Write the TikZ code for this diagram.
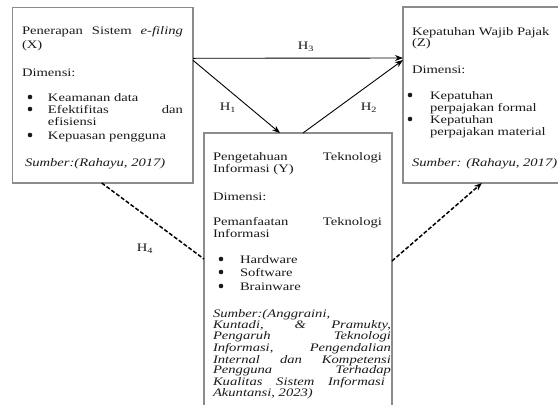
\documentclass[tikz,border=0pt]{standalone}
\usepackage{fontspec}
\setmainfont{Liberation Serif}
\usepackage{graphicx}
\usetikzlibrary{arrows.meta}
\newcommand\sxx[1]{\scalebox{1.27}[1]{#1}}
\newcommand\jln[2]{\scalebox{1.27}[1]{\makebox[0.787\dimexpr #1pt\relax][s]{#2}}}
\begin{document}
\begin{tikzpicture}[x=1pt,y=-1pt,
 txt/.style={anchor=base west,inner sep=0pt,outer sep=0pt,font=\fontsize{11.5}{12}\selectfont,text=black!90},
 bulx/.style={circle,fill=black!90,inner sep=0pt,minimum size=4.6pt},
 boxx/.style={draw=black!45,line width=1.1pt,inner sep=0pt,outer sep=0pt},
 arr/.style={line width=0.9pt,-{Stealth[length=8pt,width=6pt]}},
 dsh/.style={line width=1.5pt,dash pattern=on 4pt off 2pt},
 dsharr/.style={dsh,-{Stealth[length=8pt,width=6pt]}},
 lbl/.style={inner sep=0pt,font=\fontsize{11.5}{12}\selectfont,text=black!90}]
\useasboundingbox (0,0) rectangle (558,405);
\fill[white] (0,0) rectangle (558,405);
\clip (0,0) rectangle (558,405);
% boxes
\node[boxx,minimum width=180.3pt,minimum height=175.7pt] (L) at (102.85,95.15) {};
\node[boxx,minimum width=172pt,minimum height=176pt] (R) at (489,95) {};
\node[boxx,minimum width=188pt,minimum height=297pt] (M) at (298,281.5) {};
% left box text
\node[txt] (l1) at (22,34) {\jln{161}{Penerapan Sistem \textit{e-filing}}};
\node[txt] (l2) at (22,48) {\sxx{(X)}};
\node[txt] (l3) at (22,76) {\sxx{Dimensi:}};
\node[bulx] (lb1) at (30,97) {};
\node[txt] (l4) at (48,101) {\sxx{Keamanan data}};
\node[bulx] (lb2) at (30,109) {};
\node[txt] (l5) at (48,113) {\jln{135}{Efektifitas dan}};
\node[txt] (l6) at (48,125) {\sxx{efisiensi}};
\node[bulx] (lb3) at (30,135) {};
\node[txt] (l7) at (48,139) {\sxx{Kepuasan pengguna}};
\node[txt] (l8) at (25,166) {\sxx{\textit{Sumber:(Rahayu, 2017)}}};
% right box text
\node[txt] (r1) at (412,35) {\sxx{Kepatuhan Wajib Pajak}};
\node[txt] (r2) at (412,46) {\sxx{(Z)}};
\node[txt] (r3) at (412,73) {\sxx{Dimensi:}};
\node[bulx] (rb1) at (410,95) {};
\node[txt] (r4) at (430,99) {\sxx{Kepatuhan}};
\node[txt] (r5) at (430,111) {\sxx{perpajakan formal}};
\node[bulx] (rb2) at (410,119) {};
\node[txt] (r6) at (430,123) {\sxx{Kepatuhan}};
\node[txt] (r7) at (430,135) {\sxx{perpajakan material}};
\node[txt] (r8) at (412,166) {\sxx{\textit{Sumber: (Rahayu, 2017)}}};
% middle box text
\node[txt] (m1) at (213,160) {\jln{169}{Pengetahuan Teknologi}};
\node[txt] (m2) at (213,172) {\sxx{Informasi (Y)}};
\node[txt] (m3) at (213,200) {\sxx{Dimensi:}};
\node[txt] (m4) at (213,225) {\jln{169}{Pemanfaatan Teknologi}};
\node[txt] (m5) at (213,237) {\sxx{Informasi}};
\node[bulx] (mb1) at (221,259) {};
\node[txt] (m6) at (240,263) {\sxx{Hardware}};
\node[bulx] (mb2) at (221,272) {};
\node[txt] (m7) at (240,276) {\sxx{Software}};
\node[bulx] (mb3) at (221,286) {};
\node[txt] (m8) at (240,290) {\sxx{Brainware}};
\node[txt] (m9) at (213,317) {\sxx{\textit{Sumber:(Anggraini,}}};
\node[txt] (m10) at (213,328) {\jln{178}{\itshape Kuntadi, \& Pramukty,}};
\node[txt] (m11) at (213,339) {\jln{178}{\itshape Pengaruh Teknologi}};
\node[txt] (m12) at (213,351) {\jln{178}{\itshape Informasi, Pengendalian}};
\node[txt] (m13) at (213,363) {\jln{178}{\itshape Internal dan Kompetensi}};
\node[txt] (m14) at (213,373) {\jln{178}{\itshape Pengguna Terhadap}};
\node[txt] (m15) at (213,385) {\jln{172}{\itshape Kualitas Sistem Informasi}};
\node[txt] (m16) at (213,396) {\sxx{\textit{Akuntansi, 2023)}}};
% connectors
\draw[arr] ([yshift=-51pt]L.north east) -- ([yshift=-51pt]R.north west);
\draw[arr] ([yshift=-53pt]L.north east) -- ([xshift=76pt]M.north west);
\draw[arr] ([xshift=99pt]M.north west) -- ([yshift=-53pt]R.north west);
\draw[dsh] ([xshift=89pt]L.south west) -- ([yshift=-126pt]M.north west);
\draw[dsharr] ([yshift=-128pt]M.north east) -- ([xshift=79pt]R.south west);
% labels
\node[lbl] (h3) at (306,47) {\sxx{H\textsubscript{3}}};
\node[lbl] (h1) at (228,108) {\sxx{H\textsubscript{1}}};
\node[lbl] (h2) at (369,108) {\sxx{H\textsubscript{2}}};
\node[lbl] (h4) at (145,249) {\sxx{H\textsubscript{4}}};
\end{tikzpicture}
\end{document}
